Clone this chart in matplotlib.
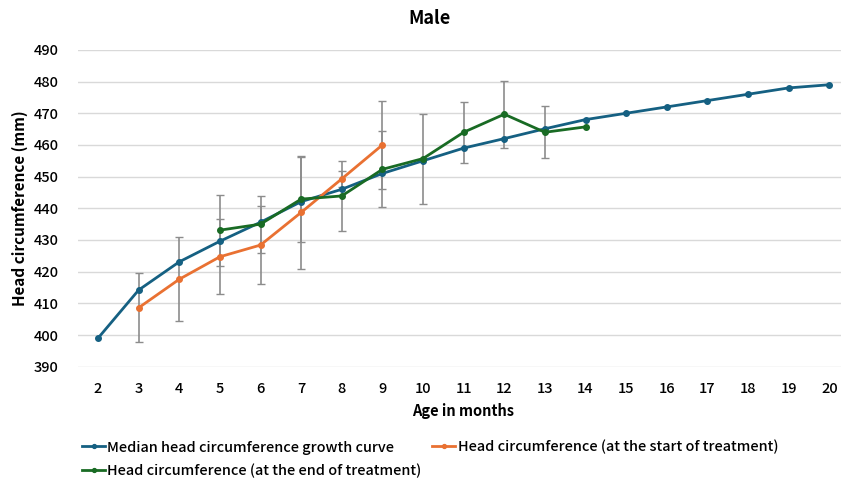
import matplotlib
matplotlib.use("Agg")
import matplotlib.pyplot as plt
import numpy as np

plt.rcParams['font.family'] = ['Noto Sans CJK JP', 'DejaVu Sans']

months = list(range(2, 21))
median_hc = [399, 414.2, 423.1, 429.6, 435.6, 442.1, 446.0, 451.0, 455.0, 459.0,
             462.0, 465.1, 468.0, 470.0, 472.0, 474.0, 476.0, 478.0, 479.0]

start_months = [3, 4, 5, 6, 7, 8, 9]
start_hc = [408.6, 417.6, 424.7, 428.4, 438.7, 449.3, 460.0]
start_err = [10.9, 13.2, 11.9, 12.3, 17.8, 2.6, 13.8]

end_months = [5, 6, 7, 8, 9, 10, 11, 12, 13, 14]
end_hc = [433.1, 435.0, 442.9, 443.9, 452.3, 455.7, 464.0, 469.7, 464.0, 465.7]
end_err = [11.2, 9.0, 13.4, 11.0, 12.0, 14.2, 9.7, 10.6, 8.2, 0]

labels = ["Median head circumference growth curve",
          "Head circumference (at the start of treatment)",
          "Head circumference (at the end of treatment)"]

c_blue = "#156082"
c_orange = "#E97132"
c_green = "#196B24"
c_err = "#8C8C8C"

W, H = 841, 479
fig = plt.figure(figsize=(W / 100, H / 100), dpi=100)
left, right = 77.7, 849.6
top, bottom = 49.9, 366.7
ax = fig.add_axes([left / W, 1 - bottom / H, (right - left) / W, (bottom - top) / H])

ax.set_xlim(1.5, 20.5)
ax.set_ylim(390, 490)
ax.set_yticks(np.arange(390, 491, 10))
ax.set_xticks(months)
ax.grid(axis='y', color='#D9D9D9', linewidth=1)
ax.set_axisbelow(True)
for s in ax.spines.values():
    s.set_visible(False)
ax.tick_params(length=0, labelsize=10.5, colors='#000000')
ax.tick_params(axis='x', pad=11)
ax.tick_params(axis='y', pad=14)
for lab in ax.get_xticklabels() + ax.get_yticklabels():
    lab.set_fontweight('medium')

# error bars
ax.errorbar(start_months, start_hc, yerr=start_err, fmt='none', ecolor=c_err,
            elinewidth=1.2, capsize=3, capthick=1.0, zorder=2)
ax.errorbar(end_months[:-1], end_hc[:-1], yerr=end_err[:-1], fmt='none', ecolor=c_err,
            elinewidth=1.2, capsize=3, capthick=1.0, zorder=2)

l1, = ax.plot(months, median_hc, color=c_blue, lw=2.0, marker='o', ms=4, zorder=3)
l2, = ax.plot(start_months, start_hc, color=c_orange, lw=2.0, marker='o', ms=4, zorder=4)
l3, = ax.plot(end_months, end_hc, color=c_green, lw=2.0, marker='o', ms=4, zorder=5)

fig.text(429 / W, 1 - 19 / H, "Male", ha='center', va='center', fontsize=13, fontweight='bold')
fig.text(20 / W, 1 - 208 / H, "Head circumference (mm)", rotation=90, ha='center',
         va='center', fontsize=11, fontweight='bold')
fig.text(463.5 / W, 1 - 411 / H, "Age in months", ha='center', va='center',
         fontsize=10.5, fontweight='bold')

leg = fig.legend([l1, l3, l2], [labels[0], labels[2], labels[1]], ncol=2,
                 loc='upper left', bbox_to_anchor=(82 / W, 1 - 440 / H),
                 frameon=False, handlelength=1.6, handletextpad=0.15,
                 columnspacing=0.75, labelspacing=0.62, borderaxespad=0, borderpad=0,
                 markerscale=0.7, prop={'size': 10.4, 'weight': 'medium'})

fig.savefig("out.png", dpi=100)
